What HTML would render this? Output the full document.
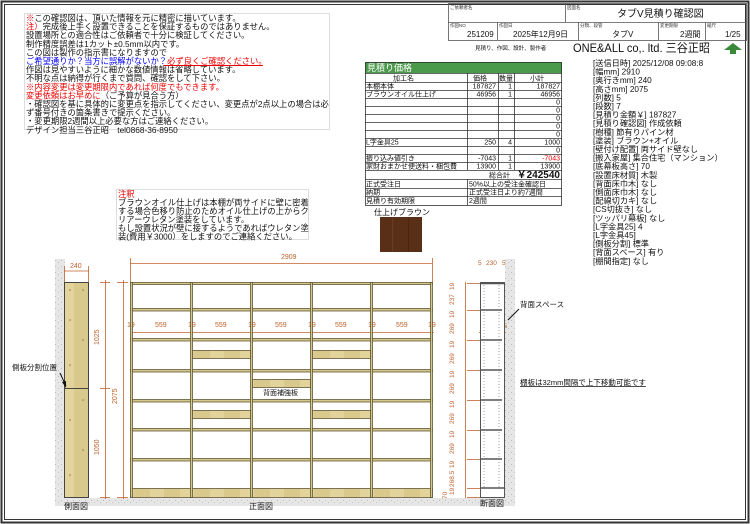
<!DOCTYPE html>
<html><head><meta charset="utf-8"><style>
html,body{margin:0;padding:0;background:#fff}
svg{display:block}
text{font-family:"Liberation Sans","Noto Sans CJK JP",sans-serif}
</style></head><body>
<svg width="750" height="524" viewBox="0 0 750 524" xmlns="http://www.w3.org/2000/svg">
<defs>
<pattern id="wood" width="30" height="30" patternUnits="userSpaceOnUse"><rect width="30" height="30" fill="#d9c98c"/><rect x="0" y="0" width="14" height="30" fill="#e2d49b"/></pattern>
<pattern id="grit" width="6" height="6" patternUnits="userSpaceOnUse"><rect width="6" height="6" fill="#e6e6e6"/><rect x="1" y="2" width="1" height="1" fill="#bbb"/><rect x="4" y="4" width="1" height="1" fill="#c4c4c4"/></pattern>
</defs>
<rect x="1.5" y="1.5" width="747" height="521" fill="none" stroke="#333" stroke-width="2"/>
<rect x="4.5" y="4.5" width="741" height="515" fill="none" stroke="#333" stroke-width="1"/>

<!-- notes box -->
<rect x="24.5" y="13.5" width="305" height="116" fill="#fff" stroke="#ddd"/>
<g font-size="8.3" fill="#111">
<text x="26" y="21"><tspan fill="#e00">※</tspan>この確認図は、頂いた情報を元に精密に描いています。</text>
<text x="26" y="29.6"><tspan fill="#e00">注）</tspan>完成後上手く設置できることを保証するものではありません。</text>
<text x="26" y="38.2">設置場所との適合性はご依頼者で十分に検証してください。</text>
<text x="26" y="46.8">制作精度誤差は1カット±0.5mm以内です。</text>
<text x="26" y="55.4">この図は製作の指示書になりますので</text>
<text x="26" y="64" fill="#00f">ご希望通りか？当方に誤解がないか？<tspan fill="#e00">必ず良くご確認ください。</tspan></text>
<text x="26" y="72.6">作図は見やすいように細かな数値情報は省略しています。</text>
<text x="26" y="81.2">不明な点は納得が行くまで質問、確認をして下さい。</text>
<text x="26" y="89.8"><tspan fill="#e00">※内容変更は変更期限内であれば何度でもできます。</tspan></text>
<text x="26" y="98.4"><tspan fill="#e00">変更依頼はお早めに</tspan>（ご予算が見合う方）</text>
<text x="26" y="107">・確認図を基に具体的に変更点を指示してください、変更点が2点以上の場合は必</text>
<text x="26" y="115.6">ず番号付きの箇条書きで提示ください。</text>
<text x="26" y="124.2">・変更期限2週間以上必要な方はご連絡ください。</text>
<text x="26" y="132.8">デザイン担当三谷正昭　tel0868-36-8950</text>
</g>
<line x1="164" y1="65.5" x2="263" y2="65.5" stroke="#e00"/>

<!-- header table -->
<g stroke="#555" fill="none" stroke-width="0.8">
<rect x="448.5" y="3.5" width="298" height="37"/>
<line x1="448" y1="22.5" x2="747" y2="22.5"/>
<line x1="565.5" y1="3" x2="565.5" y2="22"/>
<line x1="497.5" y1="22" x2="497.5" y2="40"/>
<line x1="578.5" y1="22" x2="578.5" y2="40"/>
<line x1="658.5" y1="22" x2="658.5" y2="40"/>
<line x1="705.5" y1="22" x2="705.5" y2="40"/>
</g>
<g font-size="4.5" fill="#333">
<text x="450" y="9">ご依頼者名</text><text x="567" y="9">図面名</text>
<text x="450" y="27">作図NO</text><text x="499" y="27">作図日</text><text x="580" y="27">分類、段管</text><text x="660" y="27">変更期限</text><text x="707" y="27">縮尺</text>
</g>
<g font-size="8" fill="#111">
<text x="617" y="17" font-size="10">タブV見積り確認図</text>
<text x="467" y="37">251209</text><text x="513" y="37">2025年12月9日</text><text x="612" y="37">タブV</text><text x="680" y="37">2週間</text><text x="725" y="37">1/25</text>
<text x="475" y="50" font-size="5.5">見積り、作図、設計、製作者</text>
<text x="573" y="52" font-size="12" textLength="137" lengthAdjust="spacingAndGlyphs">ONE&amp;ALL co,. ltd.  三谷正昭</text>
</g>
<g fill="#3a8a3a"><polygon points="733,43 742,50 724,50"/><rect x="730" y="50" width="6" height="4"/></g>

<!-- estimate table -->
<rect x="365" y="62" width="197" height="11" fill="#4b9a4b"/>
<text x="367" y="71" font-size="9" fill="#fff">見積り価格</text>
<g stroke="#333" stroke-width="0.8" fill="none">
<rect x="365.5" y="62.5" width="196" height="143"/>
<line x1="365" y1="73.5" x2="562" y2="73.5"/>
<line x1="365" y1="82.5" x2="562" y2="82.5"/>
<line x1="365" y1="90.5" x2="562" y2="90.5"/>
<line x1="365" y1="98.5" x2="562" y2="98.5"/>
<line x1="365" y1="106.5" x2="562" y2="106.5"/>
<line x1="365" y1="114.5" x2="562" y2="114.5"/>
<line x1="365" y1="122.5" x2="562" y2="122.5"/>
<line x1="365" y1="130.5" x2="562" y2="130.5"/>
<line x1="365" y1="138.5" x2="562" y2="138.5"/>
<line x1="365" y1="146.5" x2="562" y2="146.5"/>
<line x1="365" y1="154.5" x2="562" y2="154.5"/>
<line x1="365" y1="162.5" x2="562" y2="162.5"/>
<line x1="365" y1="170.5" x2="562" y2="170.5"/>
<line x1="365" y1="179.5" x2="562" y2="179.5"/>
<line x1="365" y1="188.5" x2="562" y2="188.5"/>
<line x1="365" y1="196.5" x2="562" y2="196.5"/>
<line x1="467.5" y1="73" x2="467.5" y2="170"/>
<line x1="498.5" y1="73" x2="498.5" y2="170"/>
<line x1="514.5" y1="73" x2="514.5" y2="170"/>
<line x1="467.5" y1="179" x2="467.5" y2="205"/>
</g>
<g font-size="7" fill="#111">
<text x="393" y="80.5">加工名</text><text x="473" y="80.5">価格</text><text x="499" y="80.5">数量</text><text x="530" y="80.5">小計</text>
<text x="366" y="88.5">本棚本体</text><text x="496" y="88.5" text-anchor="end">187827</text><text x="512" y="88.5" text-anchor="end">1</text><text x="560" y="88.5" text-anchor="end">187827</text>
<text x="366" y="96.5">ブラウンオイル仕上げ</text><text x="496" y="96.5" text-anchor="end">46956</text><text x="512" y="96.5" text-anchor="end">1</text><text x="560" y="96.5" text-anchor="end">46956</text>
<text x="560" y="104.5" text-anchor="end">0</text><text x="560" y="112.5" text-anchor="end">0</text><text x="560" y="120.5" text-anchor="end">0</text><text x="560" y="128.5" text-anchor="end">0</text><text x="560" y="136.5" text-anchor="end">0</text>
<text x="366" y="144.5">L字金具25</text><text x="496" y="144.5" text-anchor="end">250</text><text x="512" y="144.5" text-anchor="end">4</text><text x="560" y="144.5" text-anchor="end">1000</text>
<text x="560" y="152.5" text-anchor="end">0</text>
<text x="366" y="160.5">振り込み値引き</text><text x="496" y="160.5" text-anchor="end">-7043</text><text x="512" y="160.5" text-anchor="end">1</text><text x="560" y="160.5" text-anchor="end" fill="#e00">-7043</text>
<text x="366" y="168.5">家財おまかせ便送料・梱包費</text><text x="496" y="168.5" text-anchor="end">13900</text><text x="512" y="168.5" text-anchor="end">1</text><text x="560" y="168.5" text-anchor="end">13900</text>
<text x="489" y="177.5">総合計</text><text x="560" y="178" text-anchor="end" font-size="10" font-weight="bold">￥242540</text>
<text x="366" y="186.5">正式受注日</text><text x="469" y="186.5">50%以上の受注金確認日</text>
<text x="366" y="194.5">納期</text><text x="469" y="194.5">正式受注日より約7週間</text>
<text x="366" y="203">見積り有効期限</text><text x="469" y="203">2週間</text>
<text x="374" y="215" font-size="8">仕上げブラウン</text>
</g>
<rect x="380" y="217" width="42" height="35" fill="#5a2f17"/>
<rect x="392" y="217" width="1" height="35" fill="#6d3b1f"/><rect x="408" y="217" width="1" height="35" fill="#4a2612"/>

<!-- spec list -->
<g font-size="8.2" fill="#111">
<text x="593" y="66">[送信日時] 2025/12/08 09:08:8</text>
<text x="593" y="74.6">[幅mm] 2910</text>
<text x="593" y="83.2">[奥行きmm] 240</text>
<text x="593" y="91.8">[高さmm] 2075</text>
<text x="593" y="100.4">[列数] 5</text>
<text x="593" y="109">[段数] 7</text>
<text x="593" y="117.6">[見積り金額￥] 187827</text>
<text x="593" y="126.2">[見積り確認図] 作成依頼</text>
<text x="593" y="134.8">[樹種] 節有りパイン材</text>
<text x="593" y="143.4">[塗装] ブラウン+オイル</text>
<text x="593" y="152">[壁付け配置] 両サイド壁なし</text>
<text x="593" y="160.6">[搬入家屋] 集合住宅（マンション）</text>
<text x="593" y="169.2">[底幕板高さ] 70</text>
<text x="593" y="177.8">[設置床材質] 木製</text>
<text x="593" y="186.4">[背面床巾木] なし</text>
<text x="593" y="195">[側面床巾木] なし</text>
<text x="593" y="203.6">[配線切カキ] なし</text>
<text x="593" y="212.2">[CS切抜き] なし</text>
<text x="593" y="220.8">[ツッパリ幕板] なし</text>
<text x="593" y="229.4">[L字金具25] 4</text>
<text x="593" y="238">[L字金具45]</text>
<text x="593" y="246.6">[側板分割] 標準</text>
<text x="593" y="255.2">[背面スペース] 有り</text>
<text x="593" y="263.8">[棚間指定] なし</text>
</g>

<!-- 注釈 box -->
<rect x="116.5" y="189.5" width="192" height="50" fill="#fff" stroke="#ddd"/>
<g font-size="8.3" fill="#111">
<text x="118" y="197" fill="#e00">注釈</text>
<text x="118" y="205.5">ブラウンオイル仕上げは本棚が両サイドに壁に密着</text>
<text x="118" y="214">する場合色移り防止のためオイル仕上げの上からク</text>
<text x="118" y="222.5">リアーウレタン塗装をしています。</text>
<text x="118" y="231">もし設置状況が壁に接するようであればウレタン塗</text>
<text x="118" y="239.5">装(費用￥3000）をしますのでご連絡ください。</text>
</g>

<!-- floor and walls -->
<rect x="55" y="259" width="10" height="246" fill="url(#grit)"/>
<rect x="55" y="498" width="455" height="8" fill="url(#grit)"/>
<rect x="505" y="259" width="10" height="247" fill="url(#grit)"/>

<!-- side view -->
<rect x="64.5" y="282.5" width="24" height="215" fill="url(#wood)" stroke="#444"/>
<line x1="64" y1="388.5" x2="89" y2="388.5" stroke="#444"/>
<g fill="#a0783a"><circle cx="70" cy="290" r="0.8"/><circle cx="83" cy="290" r="0.8"/><circle cx="70" cy="320" r="0.8"/><circle cx="83" cy="340" r="0.8"/><circle cx="70" cy="365" r="0.8"/><circle cx="83" cy="400" r="0.8"/><circle cx="70" cy="420" r="0.8"/><circle cx="83" cy="450" r="0.8"/><circle cx="70" cy="475" r="0.8"/></g>
<text x="12" y="370" font-size="7.5" fill="#111">側板分割位置</text>
<line x1="60" y1="373" x2="66" y2="386" stroke="#111"/><polygon points="66,388 62,382 66,381" fill="#111"/>
<g stroke="#c0622c" stroke-width="0.8" fill="none">
<line x1="64" y1="271" x2="89" y2="271"/><line x1="64.5" y1="266" x2="64.5" y2="282"/><line x1="88.5" y1="266" x2="88.5" y2="282"/>
<line x1="105.5" y1="280" x2="105.5" y2="499"/><line x1="100" y1="282.5" x2="110" y2="282.5"/><line x1="100" y1="388.5" x2="110" y2="388.5"/><line x1="100" y1="497.5" x2="110" y2="497.5"/>
<line x1="123.5" y1="280" x2="123.5" y2="499"/><line x1="117" y1="282.5" x2="128" y2="282.5"/><line x1="117" y1="497.5" x2="128" y2="497.5"/>
<line x1="130" y1="263.5" x2="432" y2="263.5"/><line x1="130.5" y1="258" x2="130.5" y2="282"/><line x1="432.5" y1="258" x2="432.5" y2="282"/>
<line x1="130" y1="332.5" x2="434" y2="332.5"/>
<line x1="465.5" y1="282" x2="465.5" y2="498"/>
</g>
<g font-size="7" fill="#c0622c">
<text x="70" y="268">240</text>
<text x="281" y="259">2909</text>
<text transform="translate(99,345) rotate(-90)">1025</text>
<text transform="translate(99,455) rotate(-90)">1050</text>
<text transform="translate(117,404) rotate(-90)">2075</text>
<text x="127" y="327">19</text><text x="155" y="327">559</text><text x="188" y="327">19</text><text x="215" y="327">559</text><text x="248" y="327">19</text><text x="275" y="327">559</text><text x="308" y="327">19</text><text x="335" y="327">559</text><text x="368" y="327">19</text><text x="396" y="327">559</text><text x="428" y="327">19</text>
</g>

<!-- front view -->
<g fill="#d6c88b" stroke="#5f5636" stroke-width="0.8">
<rect x="130.5" y="282.5" width="302" height="2"/>
<rect x="130.5" y="308.5" width="302" height="2.5"/>
<rect x="130.5" y="338.5" width="302" height="2.5"/>
<rect x="130.5" y="369.5" width="302" height="2.5"/>
<rect x="130.5" y="399.5" width="302" height="2.5"/>
<rect x="130.5" y="428.5" width="302" height="2.5"/>
<rect x="130.5" y="458.5" width="302" height="2.5"/>
<rect x="130.5" y="488.5" width="302" height="9" fill="url(#wood)"/>
<rect x="192.5" y="350.5" width="58" height="8" fill="url(#wood)"/>
<rect x="312.5" y="350.5" width="58" height="8" fill="url(#wood)"/>
<rect x="252.5" y="379.5" width="58" height="8" fill="url(#wood)"/>
<rect x="192.5" y="410.5" width="58" height="8" fill="url(#wood)"/>
<rect x="312.5" y="410.5" width="58" height="8" fill="url(#wood)"/>
<rect x="130.5" y="282.5" width="2" height="215"/>
<rect x="190.5" y="282.5" width="2" height="215"/>
<rect x="250.5" y="282.5" width="2" height="215"/>
<rect x="310.5" y="282.5" width="2" height="215"/>
<rect x="370.5" y="282.5" width="2" height="215"/>
<rect x="430.5" y="282.5" width="2" height="215"/>
</g>
<text x="263" y="395" font-size="7" fill="#111">背面補強板</text>

<!-- right dims -->
<g font-size="6.5" fill="#c0622c">
<text transform="translate(454,290) rotate(-90)">19</text>
<text transform="translate(454,305) rotate(-90)">237</text>
<text transform="translate(454,318) rotate(-90)">19</text>
<text transform="translate(454,334) rotate(-90)">269</text>
<text transform="translate(454,348) rotate(-90)">19</text>
<text transform="translate(454,364) rotate(-90)">269</text>
<text transform="translate(454,378) rotate(-90)">19</text>
<text transform="translate(454,394) rotate(-90)">269</text>
<text transform="translate(454,408) rotate(-90)">19</text>
<text transform="translate(454,424) rotate(-90)">269</text>
<text transform="translate(454,438) rotate(-90)">19</text>
<text transform="translate(454,454) rotate(-90)">269</text>
<text transform="translate(454,468) rotate(-90)">19</text>
<text transform="translate(454,487) rotate(-90)">268.5</text>
<text transform="translate(454,495) rotate(-90)">19</text>
<text transform="translate(447,499) rotate(-90)">70</text>
<text x="478" y="265">5</text><text x="486" y="265">230</text><text x="502" y="265">5</text>
<text x="485" y="325">210</text><text x="500" y="328">25</text>
</g>
<g stroke="#c0622c" stroke-width="0.8">
<line x1="467" y1="283.5" x2="480" y2="283.5"/><line x1="467" y1="310.5" x2="480" y2="310.5"/><line x1="467" y1="340.5" x2="480" y2="340.5"/><line x1="467" y1="370.5" x2="480" y2="370.5"/><line x1="467" y1="400.5" x2="480" y2="400.5"/><line x1="467" y1="430.5" x2="480" y2="430.5"/><line x1="467" y1="459.5" x2="480" y2="459.5"/><line x1="467" y1="488.5" x2="480" y2="488.5"/><line x1="467" y1="497.5" x2="480" y2="497.5"/>
<line x1="479" y1="332.5" x2="506" y2="332.5"/>
</g>

<!-- section -->
<rect x="480.5" y="282.5" width="24" height="215" fill="#fff" stroke="#555"/>
<g stroke="#555" stroke-width="1.5">
<line x1="481" y1="283.5" x2="504" y2="283.5"/><line x1="481" y1="310" x2="502" y2="310"/><line x1="481" y1="340" x2="502" y2="340"/><line x1="481" y1="370" x2="502" y2="370"/><line x1="481" y1="400" x2="502" y2="400"/><line x1="481" y1="430" x2="502" y2="430"/><line x1="481" y1="459" x2="502" y2="459"/><line x1="481" y1="488" x2="504" y2="488"/>
</g>
<g stroke="#777" stroke-width="0.7" stroke-dasharray="1,2"><line x1="484" y1="285" x2="484" y2="488"/><line x1="499" y1="285" x2="499" y2="488"/></g>
<text x="520" y="307" font-size="7.5" fill="#111">背面スペース</text>
<line x1="519" y1="309" x2="508" y2="320" stroke="#111"/>
<text x="520" y="385" font-size="7.5" fill="#111" text-decoration="underline">棚板は32mm間隔で上下移動可能です</text>

<g font-size="8" fill="#111">
<text x="64" y="509">側面図</text><text x="249" y="509">正面図</text><text x="480" y="506">断面図</text>
</g>
</svg>
</body></html>
